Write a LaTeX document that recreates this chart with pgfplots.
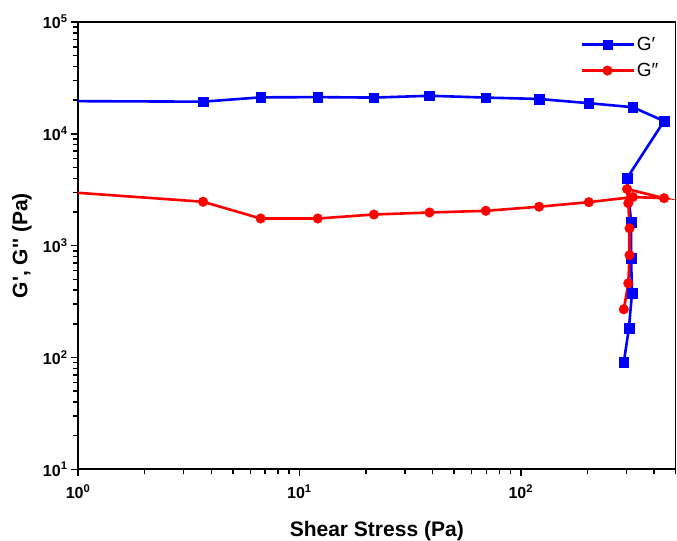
\documentclass[border=0pt]{standalone}
\usepackage{pgfplots}
\pgfplotsset{compat=1.18}
\usepackage{fontspec}
\setmainfont{Liberation Sans}
\definecolor{gblue}{RGB}{0,0,255}
\definecolor{gred}{RGB}{255,0,0}
\begin{document}
\begin{tikzpicture}
\begin{axis}[
  scale only axis, width=597pt, height=447pt,
  xmode=log, ymode=log,
  xmin=1, xmax=500, ymin=10, ymax=100000,
  axis line style={line width=1.8pt},
  tick pos=left, tick align=outside,
  major tick length=7pt, minor tick length=5pt,
  every tick/.style={black, line width=1.6pt},
  xtick={1,10,100},
  xticklabels={10\textsuperscript{0},10\textsuperscript{1},10\textsuperscript{2}},
  minor xtick={2,3,4,5,6,7,8,9,20,30,40,50,60,70,80,90,200,300,400,500},
  ytick={10,100,1000,10000,100000},
  yticklabels={10\textsuperscript{1},10\textsuperscript{2},10\textsuperscript{3},10\textsuperscript{4},10\textsuperscript{5}},
  minor ytick={20,30,40,50,60,70,80,90,200,300,400,500,600,700,800,900,2000,3000,4000,5000,6000,7000,8000,9000,20000,30000,40000,50000,60000,70000,80000,90000},
  ticklabel style={font=\fontsize{16}{18}\selectfont\bfseries},
  xticklabel style={yshift=-5pt},
  xlabel={Shear Stress (Pa)},
  ylabel={G\textquotesingle, G\textquotesingle\textquotesingle{} (Pa)},
  label style={font=\fontsize{21}{24}\selectfont\bfseries},
  xlabel style={at={(axis description cs:0.5,-0.1499)}, anchor=base},
  ylabel style={at={(axis description cs:-0.094,0.5)}, anchor=center},
  legend style={draw=none, fill=none, at={(axis description cs:0.98,0.975)}, anchor=north east,
    font=\fontsize{19}{21}\selectfont, row sep=7pt},
  legend cell align=left,
  legend image code/.code={\draw[#1, line width=2.6pt, mark repeat=2, mark phase=2] plot coordinates {(0pt,0pt) (25pt,0pt) (51pt,0pt)};},
]
\coordinate (ll) at (rel axis cs:0,0);
\coordinate (ur) at (rel axis cs:1,1);
\addplot[gblue, line width=2.6pt, forget plot] coordinates {(1,19600) (3.67,19400)};
\addplot[gred, line width=2.6pt, forget plot] coordinates {(1,2970) (3.67,2470)};
\addplot[gblue, line width=2.6pt, mark=square*, mark size=4.8pt, mark options={solid, line width=0.4pt}] coordinates {
(3.67,19400) (6.68,21200) (12.1,21300) (21.7,21100) (38.7,21900) (69.5,21100) (121,20500)
(203,18800) (321,17300) (444,13000) (302,4020) (315,1620) (315,773) (318,376) (308,183) (292,90.6)
};
\addlegendentry{G′}
\addplot[gred, line width=2.6pt, mark=*, mark size=4.8pt, mark options={solid, line width=0.4pt}] coordinates {
(3.67,2470) (6.68,1750) (12.1,1750) (21.7,1900) (38.7,1980) (69.5,2050) (121,2230)
(203,2450) (321,2720) (444,2660) (302,3210) (306,2400) (310,1430) (310,822) (306,461) (292,270)
};
\addlegendentry{G″}
\end{axis}
\pgfresetboundingbox
\path ([shift={(-78pt,-71pt)}]ll) rectangle ([shift={(1.5pt,22pt)}]ur);
\end{tikzpicture}
\end{document}
